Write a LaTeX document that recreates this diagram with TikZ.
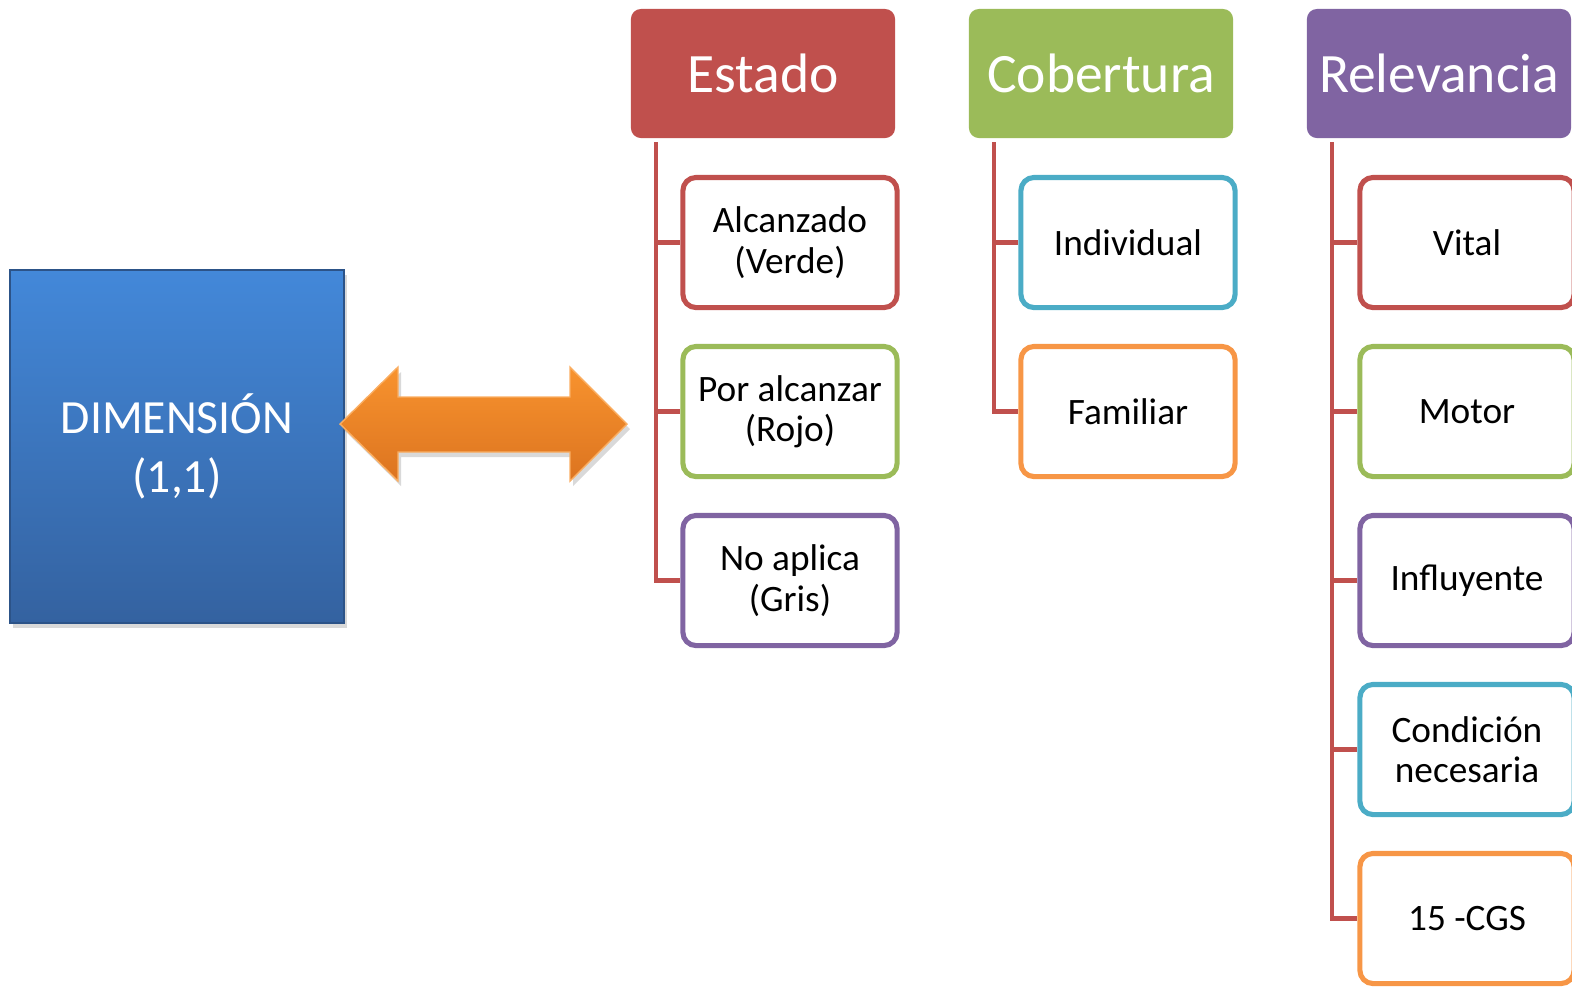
\documentclass[tikz,border=0pt]{standalone}
\usepackage{fontspec}
\setmainfont{Carlito}
\usetikzlibrary{shadows}
\definecolor{cRed}{HTML}{C0504D}
\definecolor{cGreen}{HTML}{9BBB59}
\definecolor{cPurple}{HTML}{8064A2}
\definecolor{cBlue}{HTML}{4BACC6}
\definecolor{cOrange}{HTML}{F79646}
\definecolor{dimTop}{HTML}{4388D9}
\definecolor{dimBot}{HTML}{3462A0}
\definecolor{arrTop}{HTML}{F8932E}
\definecolor{arrBot}{HTML}{DC7420}
\tikzset{
  dimbox/.style={minimum width=3.34cm,minimum height=3.53cm,top color=dimTop,
    bottom color=dimBot,draw=dimBot!85!black,line width=0.4pt,
    drop shadow={opacity=0.3,shadow xshift=0.03cm,shadow yshift=-0.05cm},
    text=white,align=center,font=\fontsize{13.55}{16.6}\selectfont},
  arrowfill/.style={top color=arrTop,bottom color=arrBot,draw=arrTop!75!white,
    line width=0.4pt,drop shadow={opacity=0.3,shadow xshift=0.03cm,shadow yshift=-0.05cm}},
  head/.style={fill=#1,rounded corners=0.1cm,minimum width=2.64cm,minimum height=1.29cm,
    text=white,font=\fontsize{15.8}{19}\selectfont,inner sep=0pt},
  item/.style={draw=#1,fill=white,line width=1.45pt,rounded corners=0.13cm,
    minimum width=2.14cm,minimum height=1.30cm,align=center,inner sep=0pt,
    font=\fontsize{10.6}{11.5}\selectfont},
  link/.style={cRed,line width=1.4pt}
}

\begin{document}
\begin{tikzpicture}[x=0.01cm,y=-0.01cm]
  \useasboundingbox (0,0) rectangle (1572,990);
  \clip (0,0) rectangle (1572,990);
  \def\dy{169}   % step between items
  \def\yh{73.5}  % centre of the headers

  % dimension box and double arrow
  \node[dimbox] (dim) at (177,446.5) {DIMENSIÓN\\(1,1)};
  \shade[arrowfill] (340,424) -- (398,367) -- (398,397) -- (570,397) -- (570,367)
    -- (627,424) -- (570,481) -- (570,452) -- (398,452) -- (398,481) -- cycle;

  % headers
  \node[head=cRed]    (hE) at (763,\yh)  {Estado};
  \node[head=cGreen]  (hC) at (1101,\yh) {Cobertura};
  \node[head=cPurple] (hR) at (1439,\yh) {Relevancia};

  % items
  \foreach \t/\c [count=\i] in {{Alcanzado\\(Verde)}/cRed,{Por alcanzar\\(Rojo)}/cGreen,
      {No aplica\\(Gris)}/cPurple}
    \node[item=\c] (e\i) at (790,{\yh+\dy*\i}) {\t};
  \foreach \t/\c [count=\i] in {Individual/cBlue,Familiar/cOrange}
    \node[item=\c] (c\i) at (1128,{\yh+\dy*\i}) {\t};
  \foreach \t/\c [count=\i] in {Vital/cRed,Motor/cGreen,Influyente/cPurple,
      {Condición\\necesaria}/cBlue,15 -CGS/cOrange}
    \node[item=\c] (r\i) at (1467,{\yh+\dy*\i}) {\t};

  % tree lines
  \coordinate (tE) at (656,142);
  \coordinate (tC) at (994,142);
  \coordinate (tR) at (1332,142);
  \draw[link] (tE) |- (e3.west);
  \foreach \i in {1,2} \draw[link] (tE |- e\i.west) -- (e\i.west);
  \draw[link] (tC) |- (c2.west);
  \draw[link] (tC |- c1.west) -- (c1.west);
  \draw[link] (tR) |- (r5.west);
  \foreach \i in {1,...,4} \draw[link] (tR |- r\i.west) -- (r\i.west);
\end{tikzpicture}
\end{document}
